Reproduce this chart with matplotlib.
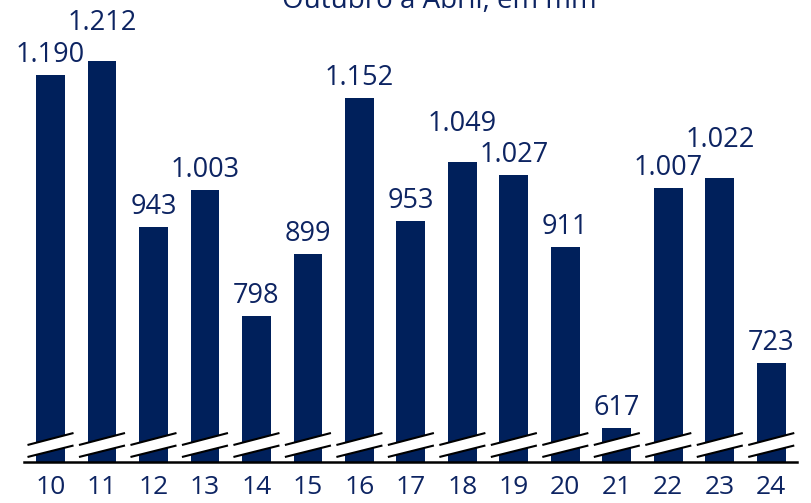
import matplotlib
matplotlib.use('Agg')
import matplotlib.pyplot as plt
from matplotlib.patches import Polygon

plt.rcParams['font.family'] = ['Open Sans', 'DejaVu Sans']

anos = ['10', '11', '12', '13', '14', '15', '16', '17', '18', '19', '20', '21', '22', '23', '24']
chuva = [1190, 1212, 943, 1003, 798, 899, 1152, 953, 1049, 1027, 911, 617, 1007, 1022, 723]
rotulos = ['1.190', '1.212', '943', '1.003', '798', '899', '1.152', '953', '1.049', '1.027', '911', '617', '1.007', '1.022', '723']
elevados = ['11', '18', '23']  # labels lifted so they don't collide

azul = '#00205b'
texto = '#0d2462'

fig = plt.figure(figsize=(8.11, 5.03), dpi=100)
ax = fig.add_axes([24 / 811, 41 / 503, 773 / 811, 462 / 503])

y0, y1 = 562, 1311
x = list(range(len(anos)))
ax.bar(x, [v - y0 for v in chuva], bottom=y0, width=0.56, color=azul, zorder=2)

ax.set_xlim(-0.515, 14.5)
ax.set_ylim(y0, y1)

# px -> data
k = (y1 - y0) / 462.0
hw = 0.447
for xi, v, lab, a in zip(x, chuva, rotulos, anos):
    # break marks
    top_l, top_r = y0 + 17 * k, y0 + 29 * k
    bot_l, bot_r = y0 + 5 * k, y0 + 16.5 * k
    ax.add_patch(Polygon([(xi - hw, bot_l), (xi + hw, bot_r), (xi + hw, top_r), (xi - hw, top_l)],
                         closed=True, facecolor='white', edgecolor='none', zorder=3))
    ax.plot([xi - hw, xi + hw], [top_l, top_r], color='black', lw=1.5, zorder=4, solid_capstyle='butt')
    ax.plot([xi - hw, xi + hw], [bot_l, bot_r], color='black', lw=1.5, zorder=4, solid_capstyle='butt')
    off = 31 if a in elevados else 13
    ax.text(xi, v + off * k, lab, ha='center', va='baseline', fontsize=19.5, color=texto)

ax.set_xticks(x)
ax.set_xticklabels(anos, fontsize=19, color=texto)
ax.tick_params(axis='x', length=0, pad=9)
ax.set_yticks([])
for s in ['top', 'left', 'right']:
    ax.spines[s].set_visible(False)
ax.spines['bottom'].set_linewidth(1.8)
ax.spines['bottom'].set_zorder(5)

fig.text(439 / 811, 1 - 8 / 503, 'Outubro a Abril, em mm', ha='center', va='baseline',
         fontsize=20, color=texto)

fig.savefig('out.png', dpi=100)
